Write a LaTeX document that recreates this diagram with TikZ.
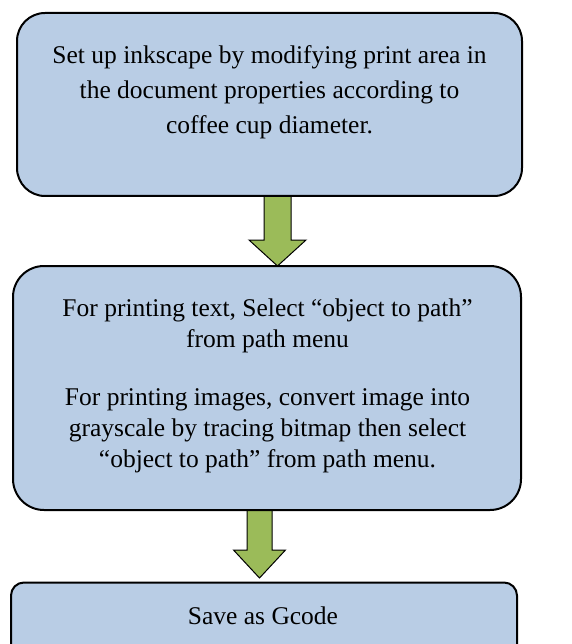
\documentclass[tikz,border=0pt]{standalone}
\usepackage{fontspec}
\setmainfont{Liberation Serif}
\usetikzlibrary{calc}
\definecolor{boxblue}{RGB}{185,205,229}
\definecolor{arrgreen}{RGB}{155,187,89}
\tikzset{
  flowbox/.style={draw=black, line width=2pt, fill=boxblue, inner sep=0pt, rectangle},
  flowtext/.style={align=center, inner sep=0pt, text=black},
  blockarrow/.style={draw=black, line width=1pt, fill=arrgreen, line join=miter}
}
\begin{document}
\begin{tikzpicture}[x=1pt,y=-1pt]
\useasboundingbox (0,0) rectangle (571,644);
\clip (0,0) rectangle (571,644);
\fill[white] (0,0) rectangle (571,644);
% boxes (shapes only, drawn later on top of arrows)
\path (269.5,104.5) node[flowbox, draw=none, fill=none, minimum width=503pt, minimum height=181pt] (b1) {};
\path (267,388) node[flowbox, draw=none, fill=none, minimum width=506pt, minimum height=242pt] (b2) {};
\path (264,626.75) node[flowbox, draw=none, fill=none, minimum width=504pt, minimum height=86.5pt] (b3) {};
% arrow anchor points
\coordinate (a1top) at ($(b1.south)+(8,0)$);
\coordinate (a1tip) at ($(b2.north)+(10.5,0)$);
\coordinate (a2top) at ($(b2.south)+(-7.5,0)$);
\coordinate (a2tip) at ($(b3.north)+(-4.5,-4.5)$);
\draw[blockarrow] ($(a1top)+(-13.5,0)$) -- ($(a1top)+(13.5,0)$) -- ($(a1tip)+(13.5,-26)$) -- ($(a1tip)+(28.5,-26)$) -- (a1tip) -- ($(a1tip)+(-28.5,-26)$) -- ($(a1tip)+(-13.5,-26)$) -- cycle;
\draw[blockarrow] ($(a2top)+(-12.5,0)$) -- ($(a2top)+(12.5,0)$) -- ($(a2tip)+(12.5,-28)$) -- ($(a2tip)+(26,-28)$) -- (a2tip) -- ($(a2tip)+(-26,-28)$) -- ($(a2tip)+(-12.5,-28)$) -- cycle;
% visible boxes
\draw[flowbox, rounded corners=28pt] (b1.north west) rectangle (b1.south east);
\draw[flowbox, rounded corners=31pt] (b2.north west) rectangle (b2.south east);
\draw[flowbox, rounded corners=13pt] (b3.north west) rectangle (b3.south east);
% texts
\node[flowtext, anchor=north, font=\fontsize{25.5}{35}\selectfont] (t1) at (269.5,38.8)
  {\strut Set up inkscape by modifying print area in\\\strut the document properties according to\\\strut coffee cup diameter.};
\node[flowtext, anchor=north, font=\fontsize{25.5}{31}\selectfont] (t2) at (267.5,294.3)
  {\strut For printing text, Select “object to path”\\\strut from path menu\\[27pt]\strut For printing images, convert image into\\\strut grayscale by tracing bitmap then select\\\strut “object to path” from path menu.};
\node[flowtext, anchor=base, font=\fontsize{25.5}{31}\selectfont] (t3) at (263,624) {Save as Gcode};
\end{tikzpicture}
\end{document}
